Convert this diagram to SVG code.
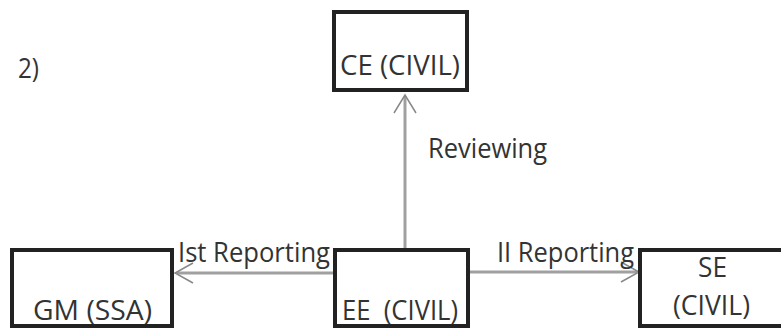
<svg xmlns="http://www.w3.org/2000/svg" width="781" height="329" viewBox="0 0 781 329">
<style>
.box{fill:#fff;stroke:#222;stroke-width:4}
.t{font-family:"Open Sans","Noto Sans",sans-serif;font-size:28px;fill:#333;white-space:pre}
.c{stroke:#a0a0a0;stroke-width:3;fill:none}
.h{stroke:#888;stroke-width:1.5;fill:none}
</style>
<rect width="781" height="329" fill="#fff"/>
<text class="t" x="18" y="78" textLength="21" lengthAdjust="spacingAndGlyphs">2)</text>
<g id="connectors">
<line class="c" x1="405" y1="268" x2="405" y2="96"/>
<polyline class="h" points="394,113 405,95 416,113"/>
<line class="c" x1="333" y1="273" x2="177" y2="273"/>
<polyline class="h" points="193,263 175,273 193,283"/>
<line class="c" x1="470" y1="272" x2="637" y2="272"/>
<polyline class="h" points="621,262 639,272 621,282"/>
<text class="t" x="428" y="158" textLength="119" lengthAdjust="spacingAndGlyphs">Reviewing</text>
<text class="t" x="178" y="262" textLength="152" lengthAdjust="spacingAndGlyphs">Ist Reporting</text>
<text class="t" x="497" y="262" textLength="137" lengthAdjust="spacingAndGlyphs">II Reporting</text>
</g>
<g id="ce">
<rect class="box" x="334" y="12" width="133" height="78"/>
<text class="t" x="340" y="75" textLength="120" lengthAdjust="spacingAndGlyphs">CE (CIVIL)</text>
</g>
<g id="gm">
<rect class="box" x="12" y="250" width="160" height="76"/>
<text class="t" x="33" y="320" textLength="119" lengthAdjust="spacingAndGlyphs">GM (SSA)</text>
</g>
<g id="ee">
<rect class="box" x="335" y="250" width="133" height="76"/>
<text class="t" x="342" y="320" textLength="116" lengthAdjust="spacingAndGlyphs" xml:space="preserve">EE  (CIVIL)</text>
</g>
<g id="se">
<rect class="box" x="640" y="250" width="145" height="76"/>
<text class="t" x="698" y="277" textLength="29" lengthAdjust="spacingAndGlyphs">SE</text>
<text class="t" x="673" y="315" textLength="77" lengthAdjust="spacingAndGlyphs">(CIVIL)</text>
</g>
</svg>
